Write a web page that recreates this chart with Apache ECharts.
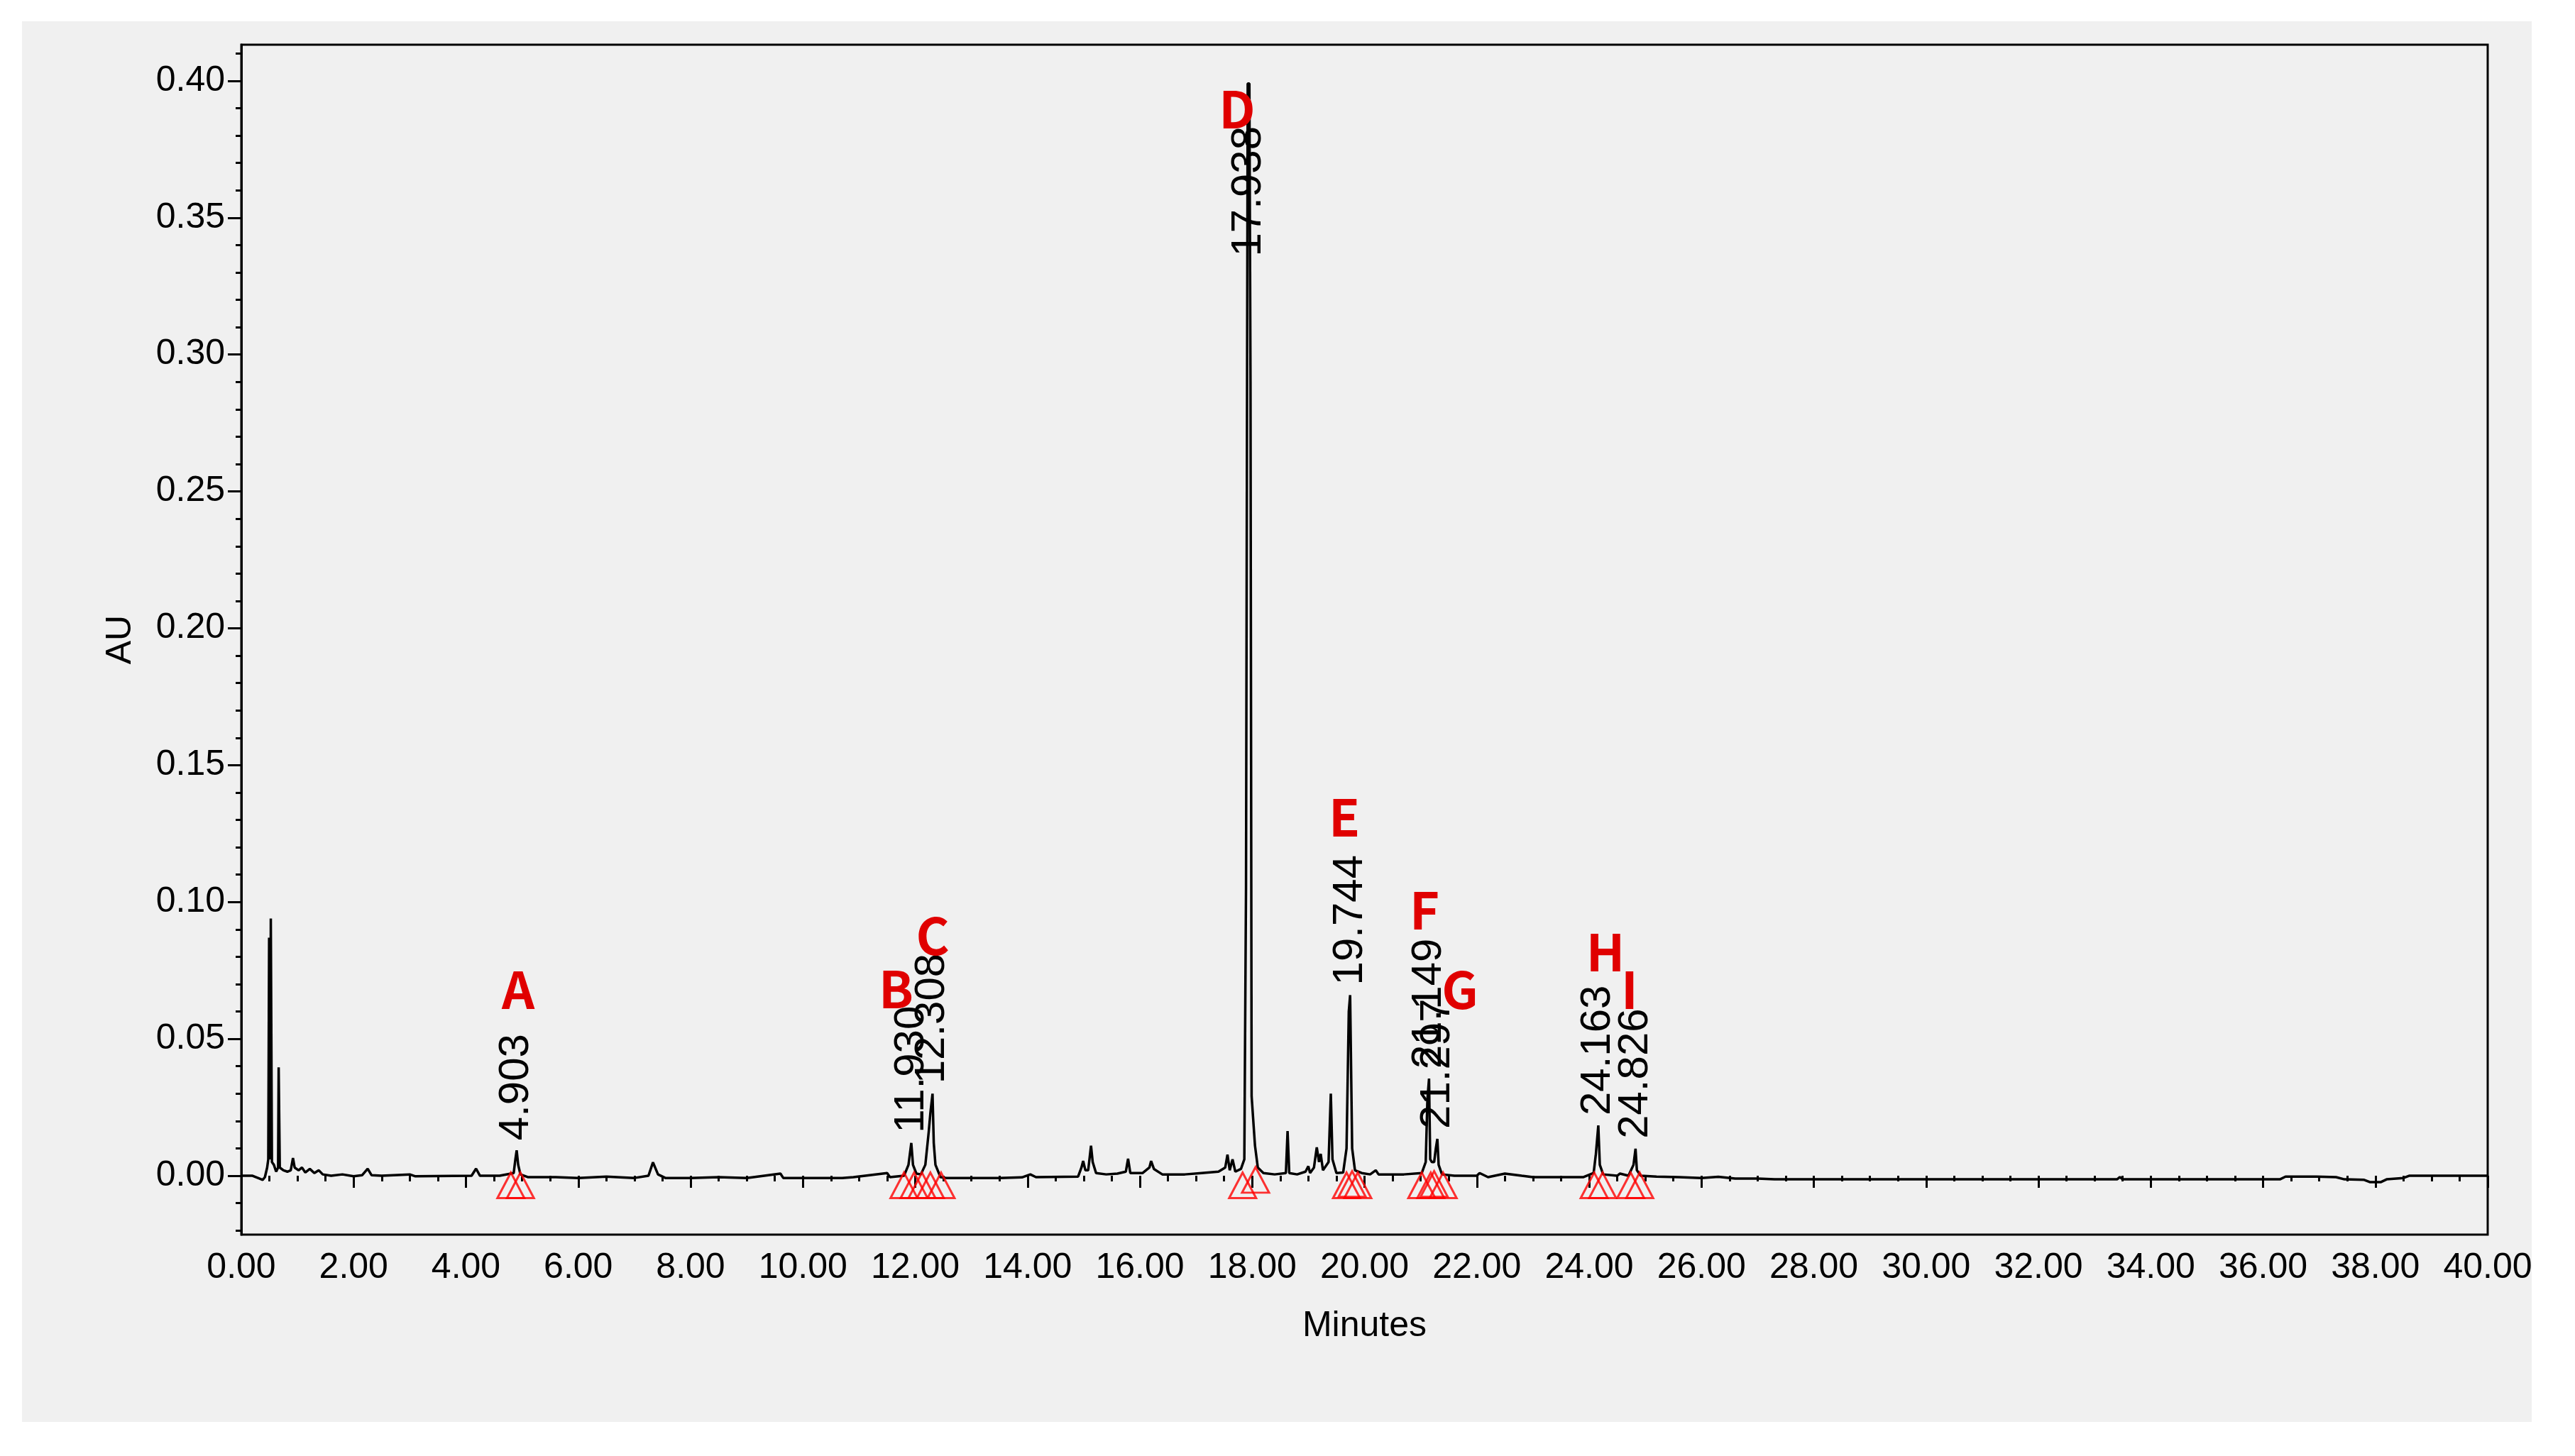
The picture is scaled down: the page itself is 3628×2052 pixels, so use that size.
<!DOCTYPE html>
<html>
<head>
<meta charset="utf-8">
<title>Chromatogram</title>
<script src="https://cdn.jsdelivr.net/npm/echarts@6/dist/echarts.min.js"></script>
<style>
  html, body { margin: 0; padding: 0; background: #fff; }
  #chart { width: 3628px; height: 2052px; }
</style>
</head>
<body>
<div id="chart"></div>
<script>
// trace (minutes, AU)
const traceTime = [
  0.00, 0.20, 0.32, 0.38, 0.42, 0.46, 0.48, 0.495, 0.505, 0.515, 0.525, 0.535, 0.545,
  0.58, 0.62, 0.655, 0.665, 0.675, 0.685, 0.75, 0.82, 0.88, 0.92, 0.95, 1.02, 1.08,
  1.14, 1.22, 1.30, 1.38, 1.45, 1.60, 1.80, 2.00, 2.15, 2.25, 2.32, 2.50, 3.00, 3.10,
  4.10, 4.18, 4.25, 4.60, 4.85, 4.88, 4.903, 4.93, 4.97, 5.10, 5.60, 6.00, 6.50, 7.00,
  7.25, 7.33, 7.42, 7.55, 8.00, 8.50, 9.00, 9.60, 9.65, 10.70, 10.90, 11.50, 11.55,
  11.80, 11.88, 11.93, 11.96, 12.02, 12.10, 12.18, 12.24, 12.27, 12.308, 12.33, 12.36,
  12.45, 12.55, 13.50, 13.90, 14.05, 14.15, 14.90, 14.96, 14.99, 15.03, 15.08, 15.13,
  15.16, 15.22, 15.40, 15.60, 15.75, 15.79, 15.83, 16.05, 16.17, 16.20, 16.25, 16.40,
  16.80, 17.10, 17.40, 17.52, 17.56, 17.60, 17.65, 17.70, 17.80, 17.86, 17.89, 17.92,
  17.95, 17.97, 17.99, 18.05, 18.10, 18.20, 18.40, 18.60, 18.63, 18.66, 18.80, 18.95,
  19.00, 19.03, 19.10, 19.15, 19.19, 19.22, 19.26, 19.36, 19.40, 19.43, 19.50, 19.62,
  19.68, 19.72, 19.744, 19.78, 19.83, 19.95, 20.10, 20.20, 20.25, 20.70, 21.02, 21.09,
  21.12, 21.149, 21.17, 21.20, 21.24, 21.27, 21.297, 21.32, 21.38, 21.60, 22.00, 22.05,
  22.20, 22.50, 22.80, 23.00, 23.90, 24.08, 24.12, 24.163, 24.19, 24.25, 24.50, 24.55,
  24.70, 24.79, 24.826, 24.85, 24.92, 25.20, 25.60, 26.00, 26.30, 26.60, 27.00, 27.30,
  33.40, 33.45, 33.50, 36.30, 36.40, 36.90, 36.92, 36.95, 37.30, 37.45, 37.80, 37.90,
  38.10, 38.20, 38.50, 38.60, 40.00
];
const traceAU = [
  0.0000, 0.0000, -0.0010, -0.0015, -0.0005, 0.0030, 0.0060, 0.0870, 0.0870, 0.0060, 0.0940, 0.0940, 0.0050,
  0.0040, 0.0015, 0.0030, 0.0396, 0.0396, 0.0030, 0.0020, 0.0015, 0.0020, 0.0065, 0.0030, 0.0020, 0.0030,
  0.0012, 0.0025, 0.0010, 0.0020, 0.0005, 0.0000, 0.0005, -0.0002, 0.0002, 0.0026, 0.0002, 0.0000, 0.0005, -0.0002,
  0.0000, 0.0026, 0.0000, 0.0000, 0.0010, 0.0060, 0.0093, 0.0040, 0.0005, -0.0005, -0.0005, -0.0008, -0.0003, -0.0008,
  0.0000, 0.0049, 0.0005, -0.0008, -0.0008, -0.0005, -0.0008, 0.0008, -0.0008, -0.0008, -0.0005, 0.0010, -0.0005,
  0.0000, 0.0040, 0.0120, 0.0040, 0.0008, 0.0005, 0.0040, 0.0160, 0.0230, 0.0300, 0.0120, 0.0040,
  -0.0005, -0.0008, -0.0008, -0.0006, 0.0005, -0.0005, -0.0003, 0.0030, 0.0054, 0.0020, 0.0020, 0.0110,
  0.0050, 0.0010, 0.0005, 0.0008, 0.0015, 0.0062, 0.0010, 0.0010, 0.0030, 0.0054, 0.0025, 0.0005,
  0.0005, 0.0010, 0.0015, 0.0030, 0.0077, 0.0020, 0.0060, 0.0015, 0.0025, 0.0060, 0.1050, 0.3990,
  0.3990, 0.2900, 0.0290, 0.0110, 0.0030, 0.0010, 0.0005, 0.0010, 0.0163, 0.0010, 0.0005, 0.0015,
  0.0035, 0.0010, 0.0030, 0.0104, 0.0050, 0.0080, 0.0020, 0.0050, 0.0300, 0.0060, 0.0010, 0.0012,
  0.0100, 0.0600, 0.0660, 0.0100, 0.0020, 0.0010, 0.0005, 0.0020, 0.0005, 0.0005, 0.0010, 0.0050,
  0.0280, 0.0355, 0.0060, 0.0050, 0.0050, 0.0100, 0.0135, 0.0040, 0.0005, 0.0000, 0.0000, 0.0010,
  -0.0005, 0.0008, 0.0000, -0.0005, -0.0005, 0.0010, 0.0080, 0.0184, 0.0040, 0.0005, 0.0000, 0.0008,
  0.0000, 0.0040, 0.0099, 0.0020, 0.0000, -0.0003, -0.0005, -0.0008, -0.0004, -0.0010, -0.0010, -0.0013,
  -0.0013, -0.0005, -0.0013, -0.0013, -0.0003, -0.0003, 0.0002, -0.0003, -0.0005, -0.0013, -0.0015, -0.0023,
  -0.0023, -0.0013, -0.0008, 0.0000, 0.0000
];

// integrated peaks: retention time label and apex height
const peakNames = ['4.903', '11.930', '12.308', '17.938', '19.744', '21.149', '21.297', '24.163', '24.826'];
const peakTime = [4.903, 11.930, 12.308, 17.938, 19.744, 21.149, 21.297, 24.163, 24.826];
const peakApex = [0.0093, 0.0120, 0.0300, 0.3990, 0.0660, 0.0355, 0.0135, 0.0184, 0.0099];

// peak start / end markers
const markTime = [4.80, 4.97, 11.80, 11.98, 12.12, 12.27, 12.46, 17.83, 18.06,
  19.68, 19.78, 19.88, 21.02, 21.18, 21.24, 21.40, 24.09, 24.24, 24.74, 24.90];
const markAU = [-0.0035, -0.0035, -0.0035, -0.0035, -0.0035, -0.0035, -0.0035, -0.0035, -0.0015,
  -0.0035, -0.0030, -0.0035, -0.0035, -0.0035, -0.0030, -0.0035, -0.0035, -0.0035, -0.0035, -0.0035];

// red compound letters added on the figure
const letterText = ['A', 'B', 'C', 'D', 'E', 'F', 'G', 'H', 'I'];
const letterTime = [4.93, 11.66, 12.31, 17.73, 19.64, 21.07, 21.70, 24.29, 24.72];
const letterAU = [0.0679, 0.0684, 0.0876, 0.3896, 0.1309, 0.0970, 0.0679, 0.0817, 0.0679];

// axis ticks
const yMajor = [0, 0.05, 0.10, 0.15, 0.20, 0.25, 0.30, 0.35, 0.40];
const yMinor = [];
for (let i = -2; i <= 41; i++) {
  if (i % 5 !== 0) yMinor.push(i / 100);
}

const labelFont = '60px "Liberation Sans", Arial, sans-serif';
const letterFont = 'bold 72px "Noto Sans CJK KR", "Noto Sans", sans-serif';

const measureCtx = document.createElement('canvas').getContext('2d');
function textWidth(t, font) {
  measureCtx.font = font;
  return measureCtx.measureText(t).width;
}

const chart = echarts.init(document.getElementById('chart'), null, { renderer: 'canvas' });

const axisText = { color: '#000', fontSize: 50, fontFamily: '"Liberation Sans", Arial, sans-serif' };

chart.setOption({
  animation: false,
  backgroundColor: '#ffffff',
  graphic: [{
    type: 'rect', z: -10, silent: true,
    shape: { x: 31, y: 30, width: 3536, height: 1974 },
    style: { fill: '#f0f0f0' }
  }],
  grid: {
    left: 340, right: 123, top: 63, bottom: 312,
    show: true, borderColor: '#000', borderWidth: 3, backgroundColor: '#f0f0f0'
  },
  xAxis: {
    type: 'value', min: 0, max: 40, interval: 2, offset: 8,
    name: 'Minutes', nameLocation: 'middle', nameGap: 96,
    nameTextStyle: axisText,
    axisLine: { show: false },
    axisTick: { show: true, length: 17, lineStyle: { color: '#000', width: 3 } },
    minorTick: { show: true, splitNumber: 4, length: 8, lineStyle: { color: '#000', width: 3 } },
    splitLine: { show: false },
    axisLabel: Object.assign({ margin: 14, formatter: v => v.toFixed(2) }, axisText)
  },
  yAxis: [{
    type: 'value', min: -0.0215, max: 0.4132,
    name: 'AU', nameLocation: 'middle', nameGap: 145, nameRotate: 90,
    nameTextStyle: axisText,
    axisLine: { show: true, lineStyle: { color: '#000', width: 3 } },
    axisTick: { show: true, length: 19, customValues: yMajor, lineStyle: { color: '#000', width: 3 } },
    splitLine: { show: false },
    axisLabel: Object.assign({ margin: 23, customValues: yMajor, formatter: v => v.toFixed(2) }, axisText)
  }, {
    type: 'value', min: -0.0215, max: 0.4132, position: 'left',
    axisLine: { show: false },
    axisTick: { show: true, length: 8, customValues: yMinor, lineStyle: { color: '#000', width: 3 } },
    axisLabel: { show: false },
    splitLine: { show: false }
  }],
  series: [{
    type: 'line',
    data: traceTime.map((t, i) => [t, traceAU[i]]),
    showSymbol: false,
    symbol: 'none',
    lineStyle: { color: '#000', width: 3.5 },
    z: 2
  }, {
    type: 'scatter',
    data: markTime.map((t, i) => [t, markAU[i]]),
    symbol: 'triangle',
    symbolSize: [38, 36],
    itemStyle: { color: 'rgba(0,0,0,0)', borderColor: '#ff0000', borderWidth: 3 },
    z: 3
  }, {
    type: 'custom',
    data: peakTime.map((t, i) => [t, peakApex[i]]),
    z: 4,
    renderItem: function (params, api) {
      const p = api.coord([api.value(0), api.value(1)]);
      const text = peakNames[params.dataIndex];
      const len = textWidth(text, labelFont);
      const top = params.coordSys.y;
      let base = p[1] - 14;
      if (base - len < top + 115) base = top + 115 + len;
      return {
        type: 'text',
        x: p[0], y: base,
        rotation: Math.PI / 2,
        style: { text: text, fill: '#000', font: labelFont, align: 'left', verticalAlign: 'middle' }
      };
    }
  }, {
    type: 'custom',
    data: letterTime.map((t, i) => [t, letterAU[i]]),
    z: 5,
    renderItem: function (params, api) {
      const p = api.coord([api.value(0), api.value(1)]);
      return {
        type: 'text',
        x: p[0], y: p[1],
        style: { text: letterText[params.dataIndex], fill: '#e00000', font: letterFont, align: 'center', verticalAlign: 'middle' }
      };
    }
  }]
});
</script>
</body>
</html>
